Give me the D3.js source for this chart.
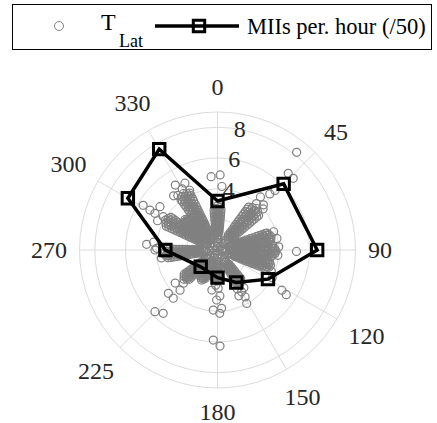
<!DOCTYPE html>
<html>
<head>
<meta charset="utf-8">
<script src="https://cdn.jsdelivr.net/npm/d3@7"></script>
<style>
  html, body { margin: 0; padding: 0; background: #fff; }
  text { font-family: "Liberation Serif" !important; }
</style>
</head>
<body>
<svg id="chart" width="437" height="423" font-family="Liberation Serif"></svg>
<script>
// Angular and radial ticks of the polar axes (degrees, clockwise from top)
const thetaTicks = [0, 45, 90, 120, 150, 180, 225, 270, 300, 330];
const rTicks = [2, 4, 6, 8];
const rTickLabels = [4, 6, 8]; // the 2 label sits under the dense scatter
const rMax = 9;

// MIIs per hour (divided by 50), one value per direction
const miiTheta = [0, 45, 90, 120, 150, 180, 225, 270, 300, 330];
const miiRate = [3.2, 6.1, 6.5, 3.8, 2.45, 1.8, 1.55, 3.4, 6.75, 7.6];

// T_Lat samples. Each direction lists its sample angles and, per angle, the latencies.
const tLat0 = { theta: [355, 357.5, 0, 2.5, 5], r: [
  [1.15,1.38,1.57,1.8,1.99,2.2,2.41,2.6],
  [0.85,1.07,1.28,1.49,1.69,1.9,2.11,2.3,2.52,2.72],
  [0.25,0.5,0.75,0.98,1.19,1.4,1.62,1.82,2.03,2.24,2.45,2.66,2.88],
  [0.92,1.13,1.33,1.55,1.75,1.96,2.17,2.37,2.58,2.77],
  [1.2,1.41,1.63,1.84,2.05,2.26,2.46,2.65]] };
const tLat43 = { theta: [36, 39.5, 43, 46.5, 50], r: [
  [1.2,1.43,1.62,1.85,2.05,2.27,2.47,2.7,2.9,3.1,3.3,3.45],
  [0.9,1.12,1.32,1.54,1.73,1.95,2.16,2.37,2.57,2.79,2.99,3.2,3.4,3.58],
  [0.3,0.56,0.8,1.03,1.22,1.44,1.64,1.86,2.06,2.28,2.48,2.7,2.9,3.12,3.31,3.52,3.7],
  [0.95,1.15,1.37,1.58,1.78,2.0,2.2,2.41,2.62,2.83,3.03,3.24,3.45,3.62],
  [1.25,1.46,1.68,1.88,2.1,2.3,2.52,2.72,2.93,3.14,3.34,3.5]] };
const tLat76 = { theta: [71, 73.5, 76, 78.5, 81], r: [
  [1.2,1.42,1.61,1.84,2.03,2.26,2.45,2.67,2.86,3.08,3.28,3.4],
  [0.9,1.11,1.32,1.53,1.72,1.94,2.14,2.35,2.55,2.76,2.97,3.17,3.38,3.52],
  [0.3,0.55,0.79,1.01,1.21,1.42,1.63,1.83,2.04,2.24,2.45,2.66,2.87,3.07,3.28,3.47,3.6],
  [0.94,1.15,1.36,1.56,1.77,1.98,2.18,2.39,2.6,2.81,3.01,3.22,3.42,3.55],
  [1.24,1.45,1.66,1.87,2.08,2.29,2.49,2.7,2.91,3.11,3.3,3.42]] };
const tLat91 = { theta: [86, 88.5, 91, 93.5, 96], r: [
  [1.22,1.43,1.64,1.85,2.05,2.27,2.47,2.68,2.89,3.1,3.3,3.5,3.62],
  [0.92,1.13,1.33,1.54,1.75,1.95,2.16,2.37,2.58,2.78,2.99,3.2,3.4,3.6,3.72],
  [0.28,0.54,0.78,1.0,1.21,1.42,1.62,1.83,2.04,2.25,2.46,2.66,2.87,3.08,3.29,3.49,3.68,3.82],
  [0.95,1.16,1.37,1.58,1.79,1.99,2.2,2.41,2.62,2.83,3.03,3.24,3.45,3.64,3.75],
  [1.25,1.46,1.67,1.88,2.09,2.3,2.51,2.72,2.92,3.13,3.34,3.52,3.6]] };
const tLat106 = { theta: [101, 103.5, 106, 108.5, 111], r: [
  [1.21,1.41,1.62,1.83,2.04,2.25,2.46,2.66,2.87,3.07,3.27,3.38],
  [0.91,1.12,1.33,1.52,1.73,1.93,2.15,2.34,2.56,2.75,2.96,3.18,3.36,3.5],
  [0.32,0.56,0.8,1.02,1.22,1.43,1.62,1.84,2.03,2.25,2.44,2.65,2.86,3.06,3.27,3.46,3.6],
  [0.95,1.16,1.35,1.57,1.76,1.99,2.17,2.4,2.59,2.8,3.02,3.21,3.41,3.54],
  [1.23,1.46,1.65,1.88,2.07,2.3,2.48,2.71,2.9,3.12,3.29,3.4]] };
const tLat146 = { theta: [141, 143.5, 146, 148.5, 151], r: [
  [1.2,1.41,1.62,1.83,2.04,2.24,2.4],
  [0.9,1.12,1.33,1.53,1.74,1.95,2.16,2.36,2.5],
  [0.3,0.55,0.78,1.0,1.22,1.43,1.63,1.84,2.05,2.26,2.46,2.62],
  [0.93,1.14,1.35,1.56,1.77,1.97,2.18,2.39,2.52],
  [1.24,1.45,1.66,1.87,2.07,2.28,2.42]] };
const tLat181 = { theta: [176, 178.5, 181, 183.5, 186], r: [
  [1.2,1.42,1.62,1.8],
  [0.9,1.12,1.33,1.54,1.74,1.9],
  [0.3,0.55,0.8,1.02,1.22,1.43,1.64,1.85,2.02],
  [0.93,1.14,1.35,1.56,1.76,1.92],
  [1.24,1.45,1.65,1.82]] };
const tLat208 = { theta: [203, 205.5, 208, 210.5, 213], r: [
  [1.2,1.41,1.62,1.83,2.0],
  [0.9,1.11,1.32,1.53,1.74,1.94,2.1],
  [0.3,0.56,0.8,1.02,1.23,1.44,1.65,1.86,2.06,2.22],
  [0.93,1.14,1.35,1.56,1.77,1.97,2.12],
  [1.24,1.45,1.66,1.86,2.02]] };
const tLat229 = { theta: [224, 226.5, 229, 231.5, 234], r: [
  [1.2,1.42,1.63,1.84,2.05,2.26,2.46,2.65],
  [0.9,1.12,1.33,1.54,1.75,1.96,2.17,2.38,2.58,2.75],
  [0.3,0.56,0.8,1.02,1.23,1.44,1.65,1.86,2.07,2.28,2.49,2.7,2.9],
  [0.93,1.14,1.35,1.56,1.77,1.98,2.19,2.4,2.6,2.78],
  [1.24,1.45,1.66,1.87,2.08,2.29,2.5,2.68]] };
const tLat266 = { theta: [261, 263.5, 266, 268.5, 271], r: [
  [1.2,1.42,1.62,1.84,2.04,2.26,2.46,2.67,2.88,3.08,3.28],
  [0.9,1.12,1.33,1.54,1.75,1.95,2.16,2.37,2.58,2.79,3.0,3.2,3.38],
  [0.3,0.55,0.79,1.01,1.22,1.43,1.64,1.84,2.05,2.26,2.47,2.68,2.88,3.09,3.3,3.5],
  [0.93,1.14,1.35,1.56,1.77,1.98,2.19,2.4,2.61,2.82,3.02,3.23,3.4],
  [1.24,1.45,1.66,1.87,2.08,2.29,2.5,2.7,2.91,3.12,3.3]] };
const tLat300 = { theta: [295, 297.5, 300, 302.5, 305], r: [
  [1.2,1.42,1.62,1.84,2.04,2.26,2.46,2.67,2.88,3.08,3.28,3.5,3.68],
  [0.9,1.12,1.33,1.54,1.75,1.95,2.16,2.37,2.58,2.79,3.0,3.2,3.42,3.62,3.8],
  [0.3,0.55,0.79,1.01,1.22,1.43,1.64,1.84,2.05,2.26,2.47,2.68,2.88,3.09,3.3,3.5,3.71,3.9],
  [0.93,1.14,1.35,1.56,1.77,1.98,2.19,2.4,2.61,2.82,3.02,3.23,3.44,3.64,3.82],
  [1.24,1.45,1.66,1.87,2.08,2.29,2.5,2.7,2.91,3.12,3.33,3.54,3.7]] };
const tLat313 = { theta: [308, 310.5, 313, 315.5, 318], r: [
  [1.3,1.52,1.73,1.94,2.15,2.36,2.57,2.7],
  [1.0,1.22,1.43,1.64,1.85,2.06,2.27,2.48,2.69,2.8],
  [0.6,0.85,1.08,1.3,1.51,1.72,1.93,2.14,2.35,2.56,2.77,2.9],
  [1.03,1.24,1.45,1.66,1.87,2.08,2.29,2.5,2.71,2.82],
  [1.33,1.55,1.76,1.97,2.18,2.39,2.6,2.72]] };
const tLat329 = { theta: [324, 326.5, 329, 331.5, 334], r: [
  [1.2,1.42,1.6,1.83,2.02,2.25,2.44,2.66,2.85,3.08,3.27,3.5,3.68,3.9,4.05],
  [0.9,1.1,1.31,1.52,1.7,1.93,2.12,2.34,2.53,2.75,2.96,3.15,3.38,3.57,3.8,3.98,4.18],
  [0.3,0.55,0.8,1.02,1.2,1.41,1.63,1.81,2.04,2.22,2.45,2.64,2.86,3.05,3.26,3.47,3.66,3.88,4.07,4.3],
  [0.95,1.16,1.36,1.57,1.76,1.98,2.17,2.4,2.58,2.8,3.0,3.22,3.42,3.62,3.83,4.02,4.2],
  [1.25,1.45,1.67,1.86,2.08,2.28,2.5,2.7,2.9,3.12,3.32,3.55,3.73,3.95,4.12]] };

// Isolated T_Lat samples outside the dense petals, [theta (deg), latency]
const tLatSparse = [
  [327,5.05],[334,4.85],[335,4.3],[324,4.4],[330,4.6],[321,4.55],
  [301,5.66],[300.6,5.12],[300.4,4.73],[301.6,4.15],[307,4.7],[296,4.35],
  [355,4.8],[2,4.9],[4,4.15],
  [39,4.45],[43,5.0],[45.5,4.2],[44,5.4],[40,3.95],[48,4.0],[39,8.2],[42.7,6.8],[46.6,6.8],
  [72,3.85],[79,3.95],[91,5.15],[87,4.0],[95,3.95],
  [122,4.95],[123,5.35],[117,4.0],[112,3.8],
  [150,3.15],[149.5,3.55],[151.3,3.97],[155,3.3],[145,3.0],[153,2.85],
  [188,2.64],[179,2.5],[181,3.26],[184,3.93],[178,4.13],[176,3.81],[183,2.3],[177,3.0],[182.7,5.88],[178.5,6.27],
  [228.6,4.27],[222.5,4.27],[223,3.58],[225.8,3.1],[232,3.5],[225.4,5.73],[220.6,5.44],
  [274.6,4.64],[271.6,3.97],[270,4.08],[262,3.7],[277,4.2]
];

const tLatGroups = [tLat0, tLat43, tLat76, tLat91, tLat106, tLat146, tLat181, tLat208,
  tLat229, tLat266, tLat300, tLat313, tLat329];
const tLatSamples = tLatGroups
  .flatMap(g => g.theta.flatMap((t, i) => g.r[i].map(v => [t, v])))
  .concat(tLatSparse);

const legendLabels = ["T", "Lat", "MIIs per. hour (/50)"];

// ---- layout ----
const serif = "Liberation Serif";
const cx = 217.5, cy = 250, outerR = 138;
const gridColor = "#dcdcdc";
const tickColor = "#262626";
const fontSize = 24;

const svg = d3.select("#chart");
const rScale = d3.scaleLinear().domain([0, rMax]).range([0, outerR]);
const aScale = d3.scaleLinear().domain([0, 360]).range([0, 2 * Math.PI]);
const polar = (t, v) => {
  const a = aScale(t), rr = rScale(v);
  return [cx + rr * Math.sin(a), cy - rr * Math.cos(a)];
};
const serifText = sel => sel.attr("font-family", serif)
  .style("font-family", `"${serif}", serif`, "important");

const gridLayer = svg.append("g");
const rLabelLayer = svg.append("g");
const dataLayer = svg.append("g");
const thetaLabelLayer = svg.append("g");
const legendLayer = svg.append("g");

// radial grid circles and outer boundary
gridLayer.append("g").selectAll("circle")
  .data(rTicks.concat([rMax]))
  .join("circle")
  .attr("cx", cx).attr("cy", cy)
  .attr("r", d => rScale(d))
  .attr("fill", "none")
  .attr("stroke", gridColor)
  .attr("stroke-width", 1);

// angular spokes
gridLayer.append("g").selectAll("line")
  .data(thetaTicks)
  .join("line")
  .attr("x1", cx).attr("y1", cy)
  .attr("x2", d => polar(d, rMax)[0])
  .attr("y2", d => polar(d, rMax)[1])
  .attr("stroke", gridColor)
  .attr("stroke-width", 1);

// T_Lat scatter
dataLayer.append("g").selectAll("circle")
  .data(tLatSamples)
  .join("circle")
  .attr("cx", d => polar(d[0], d[1])[0])
  .attr("cy", d => polar(d[0], d[1])[1])
  .attr("r", 4)
  .attr("fill", "none")
  .attr("stroke", "#808080")
  .attr("stroke-width", 1.2);

// MIIs per hour: closed polygon with square markers
const miiData = miiTheta.map((t, i) => ({ t, v: miiRate[i] }));
const radialLine = d3.lineRadial()
  .angle(d => aScale(d.t))
  .radius(d => rScale(d.v))
  .curve(d3.curveLinearClosed);
dataLayer.append("path")
  .attr("transform", `translate(${cx},${cy})`)
  .attr("d", radialLine(miiData))
  .attr("fill", "none")
  .attr("stroke", "#000")
  .attr("stroke-width", 3.5)
  .attr("stroke-linejoin", "miter");

const squareSym = d3.symbol(d3.symbolSquare, 130);
dataLayer.append("g").selectAll("path")
  .data(miiData)
  .join("path")
  .attr("transform", d => `translate(${polar(d.t, d.v)[0]},${polar(d.t, d.v)[1]})`)
  .attr("d", squareSym)
  .attr("fill", "none")
  .attr("stroke", "#000")
  .attr("stroke-width", 3);

// legend frame and symbols
legendLayer.append("rect")
  .attr("x", 12.5).attr("y", 4.5)
  .attr("width", 419).attr("height", 45)
  .attr("fill", "#fff")
  .attr("stroke", "#000")
  .attr("stroke-width", 1);
legendLayer.append("circle")
  .attr("cx", 59).attr("cy", 26).attr("r", 4.5)
  .attr("fill", "none").attr("stroke", "#808080").attr("stroke-width", 1);
legendLayer.append("line")
  .attr("x1", 155).attr("x2", 239).attr("y1", 26).attr("y2", 26)
  .attr("stroke", "#000").attr("stroke-width", 3.5);
legendLayer.append("path")
  .attr("transform", "translate(199,26)")
  .attr("d", squareSym)
  .attr("fill", "none").attr("stroke", "#000").attr("stroke-width", 3);

// ---- text ----
// radial tick labels, set along a line just clockwise of 0 (beneath the data)
const rLabelAngle = 10.5;
rLabelLayer.selectAll("text")
  .data(rTickLabels)
  .join("text")
  .call(serifText)
  .attr("x", d => polar(rLabelAngle, d)[0])
  .attr("y", d => polar(rLabelAngle, d)[1] + fontSize * 0.33)
  .attr("text-anchor", "middle")
  .attr("font-size", fontSize)
  .attr("fill", tickColor)
  .text(d => d);

// angular tick labels, pushed outward by half their box along the spoke
const charW = 0.5 * fontSize; // digit advance of the serif face
thetaLabelLayer.selectAll("text")
  .data(thetaTicks)
  .join("text")
  .call(serifText)
  .attr("text-anchor", "middle")
  .attr("font-size", fontSize)
  .attr("fill", tickColor)
  .each(function(d) {
    const w = String(d).length * charW / 2;
    const a = aScale(d);
    const ux = Math.sin(a), uy = -Math.cos(a);
    const dist = outerR + 12.5 + Math.abs(ux) * w + Math.abs(uy) * 12;
    d3.select(this)
      .attr("x", cx + dist * ux)
      .attr("y", cy + dist * uy + fontSize * 0.33);
  })
  .text(d => d);

legendLayer.append("text").call(serifText)
  .attr("x", 101).attr("y", 30)
  .attr("font-size", 24).attr("fill", "#000")
  .text(legendLabels[0]);
legendLayer.append("text").call(serifText)
  .attr("x", 119).attr("y", 47)
  .attr("font-size", 18).attr("fill", "#000")
  .text(legendLabels[1]);
legendLayer.append("text").call(serifText)
  .attr("x", 247).attr("y", 34)
  .attr("font-size", 22.5).attr("fill", "#000")
  .text(legendLabels[2]);
</script>
</body>
</html>
